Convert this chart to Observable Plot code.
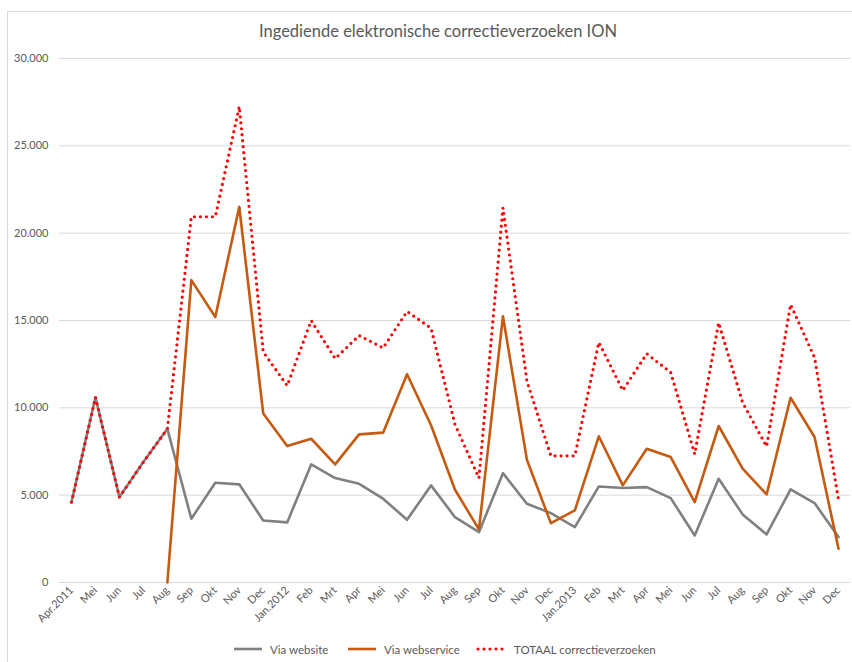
<!DOCTYPE html>
<html>
<head>
<meta charset="utf-8">
<script src="https://cdn.jsdelivr.net/npm/d3@7"></script>
<script src="https://cdn.jsdelivr.net/npm/@observablehq/plot@0.6"></script>
<style>
  html, body { margin: 0; padding: 0; background: #fff; }
  #wrap { position: relative; width: 852px; height: 662px; overflow: hidden; font-family: Lato, "Open Sans", sans-serif; }
  #frame { position: absolute; left: 7px; top: 11px; width: 900px; height: 700px; border: 1px solid #d9d9d9; box-sizing: border-box; }
  #title { position: absolute; left: 0; width: 876px; top: 21px; text-align: center; font-size: 16.5px; color: #595959; }
  #chart { position: absolute; left: 0; top: 0; }
  #legend { position: absolute; top: 642px; left: 0; width: 852px; font-size: 11.5px; color: #595959; }
  .item { position: absolute; top: 0; display: flex; align-items: center; white-space: nowrap; }
  .item svg { margin-right: 6px; }
</style>
</head>
<body>
<div id="wrap">
  <div id="frame"></div>
  <div id="chart"></div>
  <div id="title">Ingediende elektronische correctieverzoeken ION</div>
  <div id="legend"></div>
</div>
<script>
const months = ["Apr.2011","Mei","Jun","Jul","Aug","Sep","Okt","Nov","Dec","Jan.2012","Feb","Mrt","Apr","Mei","Jun","Jul","Aug","Sep","Okt","Nov","Dec","Jan.2013","Feb","Mrt","Apr","Mei","Jun","Jul","Aug","Sep","Okt","Nov","Dec"];
const viaWebsite = [4600,10600,4890,6900,8800,3650,5710,5620,3550,3440,6760,5980,5650,4800,3590,5560,3740,2880,6260,4510,3970,3170,5500,5410,5460,4830,2690,5940,3900,2750,5330,4550,2600];
const viaWebservice = [null,null,null,null,0,17310,15200,21510,9670,7810,8230,6760,8480,8580,11920,9000,5310,3040,15240,7030,3400,4130,8370,5560,7660,7180,4600,8960,6520,5040,10580,8330,1930];
const totaal = [4600,10600,4890,6900,8800,20940,20940,27250,13200,11270,15000,12820,14140,13430,15520,14560,9050,5980,21450,11540,7250,7250,13750,11000,13100,12030,7350,14870,10300,7790,15920,12880,4750];
const seriesNames = ["Via website","Via webservice","TOTAAL correctieverzoeken"];
const yTicks = [0,5000,10000,15000,20000,25000,30000];

const keys = months.map((m, i) => i + "|" + m);
const rows = [];
[viaWebsite, viaWebservice, totaal].forEach((arr, s) => {
  arr.forEach((v, i) => rows.push({key: keys[i], series: seriesNames[s], value: v}));
});
const nl = d3.formatLocale({decimal: ",", thousands: ".", grouping: [3], currency: ["€", ""]});
const fmt = nl.format(",");
const lineStyle = {
  "Via website": {stroke: "#808080", strokeWidth: 2.6},
  "Via webservice": {stroke: "#c55a11", strokeWidth: 2.6},
  "TOTAAL correctieverzoeken": {stroke: "#ff0000", strokeWidth: 3.2, strokeDasharray: "0,6", strokeLinecap: "round"}
};

const plot = Plot.plot({
  width: 852,
  height: 662,
  marginLeft: 59,
  marginRight: 2,
  marginTop: 58,
  marginBottom: 80,
  style: {fontFamily: "Lato, 'Open Sans', sans-serif", fontSize: "11px", color: "#595959", background: "transparent"},
  x: {type: "point", domain: keys, padding: 0.5, label: null},
  y: {domain: [0, 30000], label: null},
  marks: [
    Plot.ruleY(yTicks, {stroke: "#d9d9d9", strokeWidth: 1}),
    Plot.axisY({ticks: yTicks, tickSize: 0, tickPadding: 11, tickFormat: fmt, fill: "#595959", fontSize: 11}),
    Plot.axisX({tickSize: 0, tickPadding: 6, tickRotate: -45, tickFormat: k => k.split("|")[1], fill: "#595959", fontSize: 11}),
    ...seriesNames.map(name => Plot.line(rows.filter(r => r.series === name), {
      x: "key", y: "value", defined: d => d.value != null, strokeLinejoin: "round",
      ...lineStyle[name]
    }))
  ]
});
document.getElementById("chart").appendChild(plot);

const legendPos = [232, 346, 476];
const legend = document.getElementById("legend");
seriesNames.forEach((name, i) => {
  const st = lineStyle[name];
  const div = document.createElement("div");
  div.className = "item";
  div.style.left = legendPos[i] + "px";
  div.innerHTML = `<svg width="32" height="14"><line x1="2" x2="30" y1="7" y2="7" stroke="${st.stroke}" stroke-width="${st.strokeWidth}" ${st.strokeDasharray ? `stroke-dasharray="${st.strokeDasharray}" stroke-linecap="round"` : ""}/></svg><span>${name}</span>`;
  legend.appendChild(div);
});
</script>
</body>
</html>
